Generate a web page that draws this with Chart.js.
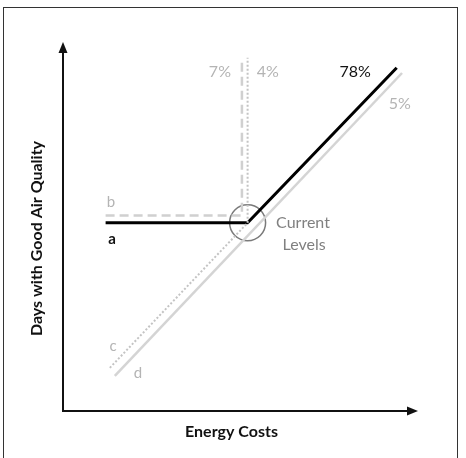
<!DOCTYPE html>
<html>
<head>
<meta charset="utf-8">
<script src="https://cdn.jsdelivr.net/npm/chart.js@4.4.1/dist/chart.umd.min.js"></script>
<style>
  body { margin: 0; background: #fff; }
  canvas { display: block; }
</style>
</head>
<body>
<canvas id="myChart" width="466" height="458"></canvas>
<script>
// schematic values on a 0-100 scale for both axes
const lineA = [{x: 12, y: 51}, {x: 52, y: 51}, {x: 94, y: 93}];        // black, 78%
const lineB = [{x: 12, y: 53}, {x: 50.4, y: 53}, {x: 50.4, y: 95.7}];  // dashed, 7%
const lineC = [{x: 13.2, y: 11.7}, {x: 52, y: 51}, {x: 52, y: 95.7}];  // dotted, 4%
const lineD = [{x: 14.6, y: 9.5}, {x: 95.5, y: 91.6}];                 // light solid, 5%
const current = [{x: 52, y: 51}];

// text labels placed in data units
const labelText = ['b', 'a', 'c', 'd', '78%', '5%', '7%', '4%', 'Current', 'Levels'];
const labelX    = [13.5, 13.8, 14.1, 21.1, 82.3, 94.9, 44.2, 57.7, 67.6, 67.9];
const labelY    = [56.6, 46.6, 17.6, 10.3, 91.9, 83.2, 91.9, 91.9, 51, 45];
const labelCol  = ['#b4b4b4', '#111', '#b4b4b4', '#b4b4b4', '#111', '#b4b4b4', '#b4b4b4', '#b4b4b4', '#808080', '#808080'];

const xTitle = 'Energy Costs';
const yTitle = 'Days with Good Air Quality';

const FONT = 'Lato, "Open Sans", sans-serif';

const frame = {
  id: 'frame',
  beforeDraw(chart) {
    const c = chart.ctx;
    c.save();
    c.fillStyle = '#fff';
    c.fillRect(0, 0, chart.width, chart.height);
    c.strokeStyle = '#333';
    c.lineWidth = 1;
    c.strokeRect(3.5, 7.5, 454, 460);
    c.restore();
  },
  afterDraw(chart) {
    const c = chart.ctx;
    const a = chart.chartArea;
    c.save();
    c.strokeStyle = '#111';
    c.fillStyle = '#111';
    c.lineWidth = 2;
    // axes
    c.beginPath();
    c.moveTo(a.left, a.top + 8);
    c.lineTo(a.left, a.bottom);
    c.lineTo(a.right - 8, a.bottom);
    c.stroke();
    // arrow heads
    c.beginPath();
    c.moveTo(a.left, a.top);
    c.lineTo(a.left - 4.5, a.top + 11);
    c.lineTo(a.left + 4.5, a.top + 11);
    c.closePath();
    c.fill();
    c.beginPath();
    c.moveTo(a.right, a.bottom);
    c.lineTo(a.right - 11, a.bottom - 4.5);
    c.lineTo(a.right - 11, a.bottom + 4.5);
    c.closePath();
    c.fill();
    // axis titles
    c.font = 'bold 16px ' + FONT;
    c.textAlign = 'center';
    c.textBaseline = 'middle';
    c.fillText(xTitle, (a.left + a.right) / 2 - 9, a.bottom + 21);
    c.translate(a.left - 26, (a.top + a.bottom) / 2 + 12);
    c.rotate(-Math.PI / 2);
    c.fillText(yTitle, 0, 0);
    c.restore();

    // labels
    const xs = chart.scales.x, ys = chart.scales.y;
    c.save();
    c.textAlign = 'center';
    c.textBaseline = 'middle';
    labelText.forEach((t, i) => {
      c.font = (t.length === 1 ? '15px ' : '16px ') + FONT;
      if (t === 'a') c.font = 'bold 15px ' + FONT;
      c.fillStyle = labelCol[i];
      c.fillText(t, xs.getPixelForValue(labelX[i]), ys.getPixelForValue(labelY[i]));
    });
    c.restore();
  }
};

new Chart('myChart', {
  type: 'scatter',
  data: {
    datasets: [
      { label: 'd', data: lineD, showLine: true, borderColor: '#d4d4d4', borderWidth: 2.5, pointRadius: 0 },
      { label: 'c', data: lineC, showLine: true, borderColor: '#c4c4c4', borderWidth: 2, borderDash: [2, 2], pointRadius: 0 },
      { label: 'b', data: lineB, showLine: true, borderColor: '#d0d0d0', borderWidth: 2.5, borderDash: [9, 5], pointRadius: 0 },
      { label: 'a', data: lineA, showLine: true, borderColor: '#000', borderWidth: 3, pointRadius: 0, borderJoinStyle: 'miter' },
      { label: 'Current Levels', data: current, showLine: false, pointRadius: 18, pointStyle: 'circle',
        backgroundColor: 'rgba(0,0,0,0)', borderColor: '#7a7a7a', borderWidth: 1.5 }
    ]
  },
  options: {
    responsive: false,
    animation: false,
    events: [],
    layout: { padding: { left: 63, top: 42, right: 48, bottom: 47 } },
    scales: {
      x: { display: false, min: 0, max: 100 },
      y: { display: false, min: 0, max: 100 }
    },
    plugins: {
      legend: { display: false },
      tooltip: { enabled: false }
    },
    clip: false
  },
  plugins: [frame]
});
</script>
</body>
</html>
